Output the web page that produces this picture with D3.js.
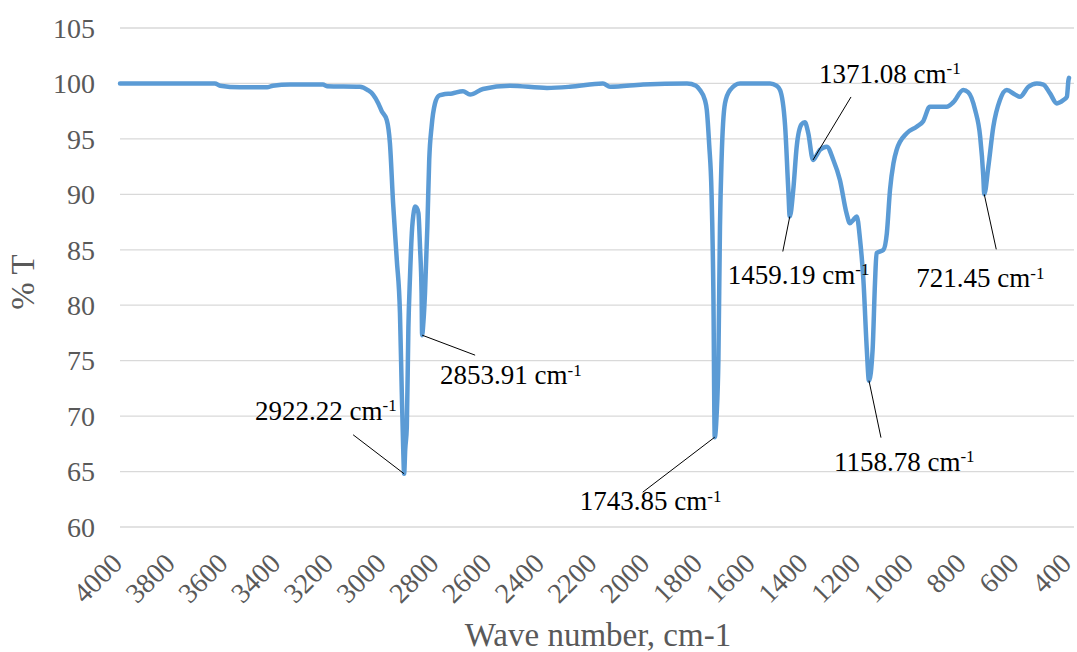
<!DOCTYPE html>
<html>
<head>
<meta charset="utf-8">
<script src="https://cdn.jsdelivr.net/npm/d3@7"></script>
<style>
  html, body { margin: 0; padding: 0; background: #fff; }
</style>
</head>
<body>
<div id="chart"></div>
<script>
// spectrum (wave number, %T)
var waveNumbers = [4000, 3800, 3640, 3620, 3545, 3442, 3420, 3355, 3230, 3215, 3090, 3060, 3040, 3020, 3007, 2988,
  2976, 2964, 2950, 2938, 2931, 2925, 2922.22, 2918, 2912, 2906, 2900, 2893, 2885, 2881, 2875, 2868, 2862, 2856,
  2853.91, 2849, 2843, 2834, 2827, 2818, 2805, 2790, 2775, 2740, 2699, 2672, 2623, 2521, 2380, 2293, 2168, 2141,
  2016, 1849, 1815, 1800, 1781, 1774, 1765, 1756, 1749, 1743.85, 1737, 1730, 1724, 1718, 1705, 1686, 1648, 1534,
  1510, 1496, 1477, 1465, 1459.19, 1446, 1433, 1415, 1402, 1389, 1371.08, 1358, 1345, 1319, 1294, 1269, 1244,
  1231, 1218, 1205, 1193, 1180, 1167, 1158.78, 1145, 1136, 1130, 1104, 1091, 1079, 1066, 1054, 1016, 978, 953,
  928, 877, 864, 839, 801, 782, 756, 737, 725, 721.45, 706, 687, 662, 636, 605, 586, 554, 522, 497, 472, 446, 421,
  408, 402, 400];
var transmittance = [100.0, 100.0, 100.0, 99.8, 99.65, 99.65, 99.8, 99.9, 99.9, 99.75, 99.7, 99.4, 99.0, 98.2, 97.5, 96.7,
  94.6, 89.2, 84.1, 79.3, 72.1, 66.5, 64.8, 67.0, 69.0, 78.0, 82.5, 86.5, 88.5, 88.9, 88.8, 88.3, 85.3, 81.1,
  77.3, 78.5, 81.1, 87.1, 93.1, 96.1, 98.2, 98.9, 99.0, 99.1, 99.3, 99.0, 99.5, 99.8, 99.6, 99.7, 100.0, 99.7,
  99.9, 100.0, 99.8, 99.4, 98.5, 97.6, 94.5, 90.1, 81.1, 68.1, 70.0, 75.1, 87.1, 93.1, 98.2, 99.4, 100.0, 100.0,
  99.8, 99.4, 96.2, 90.5, 88.0, 90.4, 94.3, 96.3, 96.5, 95.5, 93.1, 93.5, 94.0, 94.3, 93.1, 91.3, 88.3,
  87.4, 87.7, 88.0, 86.0, 82.3, 76.0, 73.2, 76.0, 82.0, 84.7, 85.0, 86.5, 90.4, 92.8, 94.0, 95.5, 96.1, 96.6,
  97.9, 97.9, 97.9, 98.3, 99.4, 99.2, 97.6, 95.2, 91.6, 90.0, 92.5, 96.1, 98.5, 99.4, 99.0, 98.8, 99.7, 100.0, 99.9, 99.1, 98.2, 98.5,
  98.8, 100.3, 100.5];

// labelled peaks
var peakWave = [2922.22, 2853.91, 1743.85, 1459.19, 1371.08, 1158.78, 721.45];
var peakT = [64.8, 77.3, 68.1, 88.0, 93.1, 73.2, 90.0];

var xTicks = d3.range(4000, 399, -200);
var yTicks = [60, 65, 70, 75, 80, 85, 90, 95, 100, 105];

var width = 1077, height = 652;
var x0 = 120, x1 = 1069, yTop = 28, yBottom = 527;
var serif = "'Liberation Serif', 'Times New Roman', 'DejaVu Serif', serif";

var x = d3.scaleLinear().domain([4000, 400]).range([x0, x1]);
var y = d3.scaleLinear().domain([60, 105]).range([yBottom, yTop]);

var svg = d3.select("#chart").append("svg")
    .attr("width", width)
    .attr("height", height)
    .style("font-family", serif);

// horizontal gridlines
svg.append("g").selectAll("line")
    .data(yTicks)
    .enter().append("line")
    .attr("x1", x0)
    .attr("x2", x1 + 5)
    .attr("y1", function (d) { return y(d); })
    .attr("y2", function (d) { return y(d); })
    .attr("stroke", "#d9d9d9")
    .attr("stroke-width", 1.3);

// y tick labels
svg.append("g").selectAll("text")
    .data(yTicks)
    .enter().append("text")
    .attr("x", 95)
    .attr("y", function (d) { return y(d); })
    .attr("dy", "0.35em")
    .attr("text-anchor", "end")
    .attr("fill", "#595959")
    .style("font-size", "28px")
    .text(function (d) { return d; });

// x tick labels, rotated
svg.append("g").selectAll("text")
    .data(xTicks)
    .enter().append("text")
    .attr("transform", function (d) {
        return "translate(" + (x(d) + 4) + "," + (yBottom + 38) + ") rotate(-45)";
    })
    .attr("text-anchor", "end")
    .attr("fill", "#595959")
    .style("font-size", "28px")
    .text(function (d) { return d; });

// axis titles
svg.append("text")
    .attr("x", 598)
    .attr("y", 646)
    .attr("text-anchor", "middle")
    .attr("fill", "#595959")
    .style("font-size", "33px")
    .text("Wave number, cm-1");

svg.append("text")
    .attr("transform", "translate(34,282) rotate(-90)")
    .attr("text-anchor", "middle")
    .attr("fill", "#595959")
    .style("font-size", "33px")
    .text("% T");

// spectrum
var pts = waveNumbers.map(function (w, i) { return [w, transmittance[i]]; });
var line = d3.line()
    .x(function (d) { return x(d[0]); })
    .y(function (d) { return y(d[1]); })
    .curve(d3.curveMonotoneX);

svg.append("path")
    .datum(pts)
    .attr("d", line)
    .attr("fill", "none")
    .attr("stroke", "#5b9bd5")
    .attr("stroke-width", 4.5)
    .attr("stroke-linejoin", "round")
    .attr("stroke-linecap", "round");

// peak labels: leader end offset and text spot relative to the peak
var leaderDx = [-51, 53, -72, -7, 38, 12, 12];
var leaderDy = [-39, 20, 55, 35, -63, 57, 55];
var labelDx = [-149, 18, -135, -62, 6, -35, -68];
var labelDy = [-54, 49, 73, 67, -77, 90, 93];

var peaks = svg.append("g").selectAll("g")
    .data(peakWave)
    .enter().append("g");

peaks.append("line")
    .attr("x1", function (d, i) { return x(d); })
    .attr("y1", function (d, i) { return y(peakT[i]); })
    .attr("x2", function (d, i) { return x(d) + leaderDx[i]; })
    .attr("y2", function (d, i) { return y(peakT[i]) + leaderDy[i]; })
    .attr("stroke", "#000")
    .attr("stroke-width", 1);

var lbl = peaks.append("text")
    .attr("x", function (d, i) { return x(d) + labelDx[i]; })
    .attr("y", function (d, i) { return y(peakT[i]) + labelDy[i]; })
    .attr("fill", "#000")
    .style("font-size", "27px");
lbl.append("tspan").text(function (d) { return d.toFixed(2) + " cm"; });
lbl.append("tspan")
    .attr("dy", "-0.5em")
    .style("font-size", "17px")
    .text("-1");
</script>
</body>
</html>
